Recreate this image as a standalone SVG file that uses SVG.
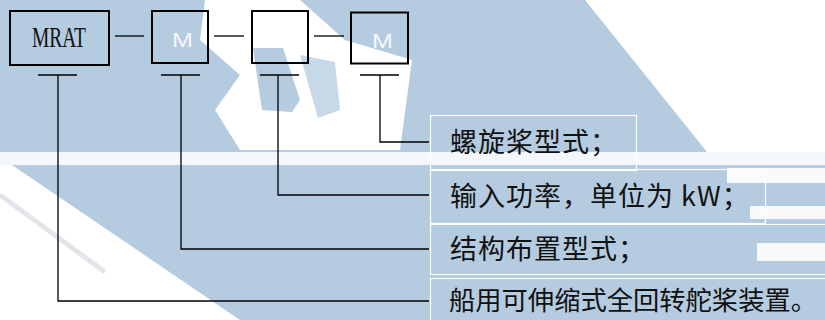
<svg xmlns="http://www.w3.org/2000/svg" width="825" height="320" viewBox="0 0 825 320">
  <style>
    .box { fill: none; stroke: #000; stroke-width: 2; }
    .lbl { fill: none; stroke: #ffffff; stroke-width: 1.2; }
    .ln { fill: none; stroke: #000; stroke-width: 1.3; }
    .cjk { font-family: "Noto Sans CJK SC", "Liberation Serif", serif; font-size: 27px; fill: #111; letter-spacing: 1px; }
    .mrat { font-family: "Liberation Serif", serif; font-size: 29px; fill: #111; }
    .m { font-family: "Liberation Sans", sans-serif; font-size: 21px; fill: #f4f8fb; }
  </style>
  <g id="background">
    <rect x="0" y="0" width="825" height="320" fill="#ffffff"/>
    <polygon points="0,0 585,0 707,152 825,152 825,320 240,320 12,165 0,165" fill="#b4cbe0"/>
    <polygon points="205,0 300,0 345,40 412,60 400,150 240,150 215,110 240,75 200,40" fill="#ffffff"/>
    <polygon points="253,48 283,48 300,100 292,112 262,110" fill="#b4cbe0"/>
    <polygon points="300,55 335,62 340,110 318,118" fill="#c7d8e8"/>
    <rect x="0" y="152" width="825" height="13" fill="#ffffff" opacity="0.85"/>
    <rect x="727" y="168" width="98" height="15" fill="#ffffff" opacity="0.9"/>
    <rect x="750" y="206" width="75" height="13" fill="#ffffff" opacity="0.9"/>
    <rect x="757" y="243" width="68" height="18" fill="#ffffff" opacity="0.9"/>
    <line x1="0" y1="195" x2="105" y2="272" stroke="#e2e6ea" stroke-width="5"/>
  </g>
  <g id="node-mrat">
    <rect class="box" x="10" y="11" width="99" height="54"/>
    <text class="mrat" x="32" y="47" textLength="54" lengthAdjust="spacingAndGlyphs">MRAT</text>
  </g>
  <g id="node-structure">
    <rect class="box" x="152" y="11" width="56" height="52"/>
    <text class="m" x="172" y="47" textLength="21" lengthAdjust="spacingAndGlyphs">M</text>
  </g>
  <g id="node-power">
    <rect class="box" x="252" y="11" width="56" height="52"/>
  </g>
  <g id="node-propeller">
    <rect class="box" x="351" y="12.5" width="57" height="51"/>
    <text class="m" x="372" y="48" textLength="21" lengthAdjust="spacingAndGlyphs">M</text>
  </g>
  <g id="connectors">
    <line class="ln" x1="115" y1="36" x2="144" y2="36"/>
    <line class="ln" x1="214" y1="36" x2="244" y2="36"/>
    <line class="ln" x1="314" y1="36" x2="344" y2="36"/>
    <line class="ln" x1="38" y1="75" x2="77" y2="75"/>
    <line class="ln" x1="161" y1="75" x2="200" y2="75"/>
    <line class="ln" x1="260" y1="75" x2="299" y2="75"/>
    <line class="ln" x1="360" y1="75" x2="399" y2="75"/>
    <path class="ln" d="M58,75 V301 H429"/>
    <path class="ln" d="M181,75 V249 H429"/>
    <path class="ln" d="M278,75 V195 H429"/>
    <path class="ln" d="M380,75 V142 H429"/>
  </g>
  <g id="label-propeller">
    <rect class="lbl" x="430.5" y="115.5" width="206" height="55"/>
    <text class="cjk" x="450" y="152">螺旋桨型式；</text>
  </g>
  <g id="label-power">
    <rect class="lbl" x="430.5" y="169.5" width="335" height="54"/>
    <text class="cjk" x="450" y="206">输入功率，单位为 kW；</text>
  </g>
  <g id="label-structure">
    <path class="lbl" d="M830,224.5 H430.5 V274.5 H830"/>
    <text class="cjk" x="450" y="259">结构布置型式；</text>
  </g>
  <g id="label-device">
    <path class="lbl" d="M430.5,325 V278.5 H830"/>
    <text class="cjk" x="449" y="310" style="font-size:26px;letter-spacing:0" textLength="368" lengthAdjust="spacingAndGlyphs">船用可伸缩式全回转舵桨装置。</text>
  </g>
</svg>
